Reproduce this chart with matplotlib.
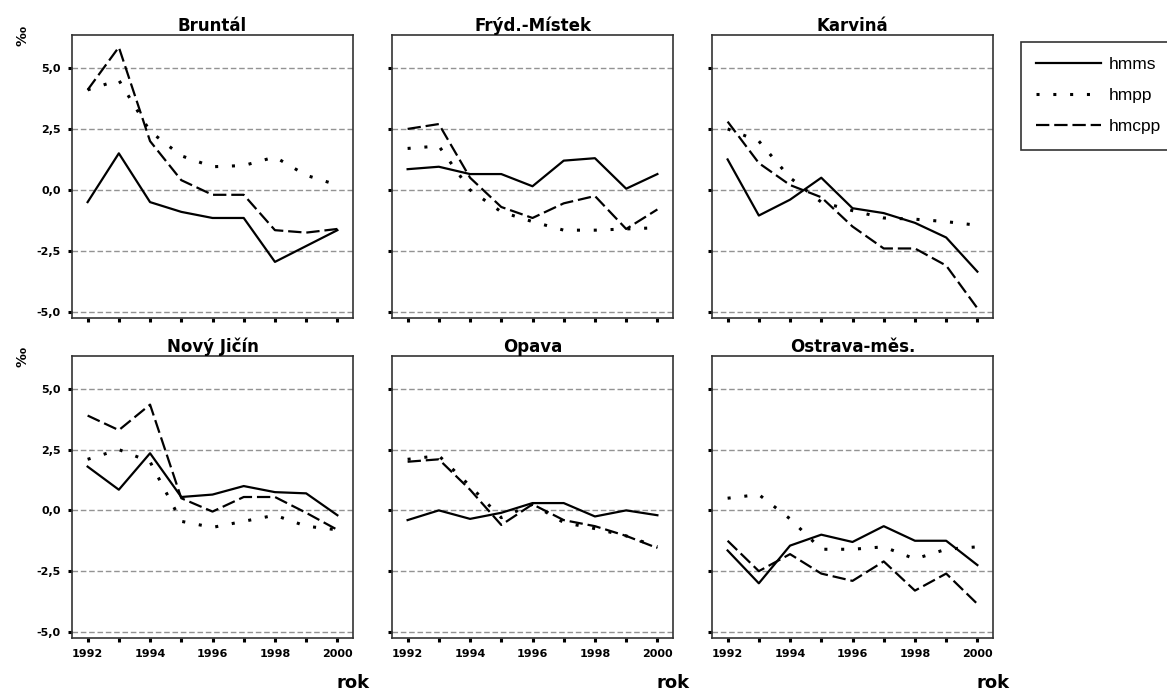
import matplotlib
matplotlib.use("Agg")
import matplotlib.pyplot as plt
from matplotlib.lines import Line2D

# data (per mille)
years = [1992, 1993, 1994, 1995, 1996, 1997, 1998, 1999, 2000]
districts = ["Bruntál", "Frýd.-Místek", "Karviná", "Nový Jičín", "Opava", "Ostrava-měs."]

hmms = [
    [-0.5, 1.5, -0.5, -0.9, -1.15, -1.15, -2.95, -2.3, -1.65],
    [0.85, 0.95, 0.65, 0.65, 0.15, 1.2, 1.3, 0.05, 0.65],
    [1.25, -1.05, -0.4, 0.5, -0.75, -0.95, -1.35, -1.95, -3.35],
    [1.8, 0.85, 2.35, 0.55, 0.65, 1.0, 0.75, 0.7, -0.2],
    [-0.4, 0.0, -0.35, -0.1, 0.3, 0.3, -0.25, 0.0, -0.2],
    [-1.65, -3.0, -1.45, -1.0, -1.3, -0.65, -1.25, -1.25, -2.25],
]
hmpp = [
    [4.1, 4.5, 2.4, 1.4, 0.95, 1.0, 1.35, 0.6, 0.2],
    [1.7, 1.8, 0.0, -0.9, -1.3, -1.65, -1.65, -1.6, -1.55],
    [2.5, 2.0, 0.5, -0.5, -0.85, -1.15, -1.2, -1.3, -1.45],
    [2.1, 2.5, 2.0, -0.45, -0.7, -0.45, -0.2, -0.65, -0.8],
    [2.1, 2.25, 1.0, -0.3, 0.25, -0.5, -0.75, -1.05, -1.5],
    [0.5, 0.65, -0.35, -1.6, -1.6, -1.5, -2.0, -1.6, -1.5],
]
hmcpp = [
    [4.1, 5.85, 2.0, 0.4, -0.2, -0.2, -1.65, -1.75, -1.6],
    [2.5, 2.7, 0.5, -0.7, -1.15, -0.55, -0.25, -1.6, -0.8],
    [2.8, 1.1, 0.2, -0.3, -1.5, -2.4, -2.4, -3.1, -4.85],
    [3.9, 3.3, 4.35, 0.5, -0.05, 0.55, 0.55, -0.1, -0.8],
    [2.0, 2.1, 0.85, -0.6, 0.25, -0.4, -0.65, -1.05, -1.55],
    [-1.25, -2.5, -1.8, -2.6, -2.9, -2.1, -3.3, -2.6, -3.85],
]
yticks = [-5.0, -2.5, 0.0, 2.5, 5.0]
ytick_labels = ["-5,0", "-2,5", "0,0", "2,5", "5,0"]
series_names = ["hmms", "hmpp", "hmcpp"]

W, H = 1167, 693
lefts = [72, 392, 712]
rows = [(35, 318), (356, 638)]
width = 281

styles = [
    dict(linestyle="-", linewidth=1.6),
    dict(linestyle=(0, (1, 4.5)), linewidth=2.2),
    dict(linestyle=(0, (6, 2.2)), linewidth=1.6),
]

fig = plt.figure(figsize=(W / 100, H / 100), dpi=100)

for i, name in enumerate(districts):
    r, c = divmod(i, 3)
    top, bottom = rows[r]
    ax = fig.add_axes([lefts[c] / W, 1 - bottom / H, width / W, (bottom - top) / H])
    for yv in yticks:
        ax.axhline(yv, color="#939393", linewidth=1.0, linestyle=(0, (4, 2)), zorder=1)
    for data, st in zip([hmms, hmpp, hmcpp], styles):
        ax.plot(years, data[i], color="black", zorder=3, **st)
    ax.set_xlim(1991.5, 2000.5)
    ax.set_ylim(-5.25, 6.35)
    ax.set_yticks(yticks)
    ax.set_xticks(years)
    for sp in ax.spines.values():
        sp.set_color("#333333")
        sp.set_linewidth(1.2)
    ax.tick_params(direction="out", length=3, width=2.2, color="black", pad=5)
    if c == 0:
        ax.set_yticklabels(ytick_labels, fontsize=8, fontweight="bold")
        ax.text(-0.175, 0.995, "‰", rotation=90, transform=ax.transAxes,
                ha="center", va="center", fontsize=10, fontweight="bold")
    else:
        ax.set_yticklabels([])
    if r == 1:
        ax.set_xticklabels([str(y) if y % 2 == 0 else "" for y in years],
                           fontsize=8, fontweight="bold")
        ax.text(1.0, -0.16, "rok", transform=ax.transAxes, ha="center",
                va="center", fontsize=13, fontweight="bold")
    else:
        ax.set_xticklabels([])
    ax.set_title(name, fontsize=12, fontweight="bold", pad=3)

handles = [Line2D([], [], color="black", **st) for st in styles]
leg = fig.legend(handles, series_names, loc="upper left",
                 bbox_to_anchor=(1012 / W, 1 - 33 / H),
                 prop={"family": "Liberation Sans", "size": 12.5},
                 handlelength=3.7, handletextpad=0.45, labelspacing=0.9,
                 borderpad=0.9, fancybox=False, framealpha=1)
leg.get_frame().set_edgecolor("#333333")
leg.get_frame().set_linewidth(1.2)

fig.savefig("out.png", dpi=100)
